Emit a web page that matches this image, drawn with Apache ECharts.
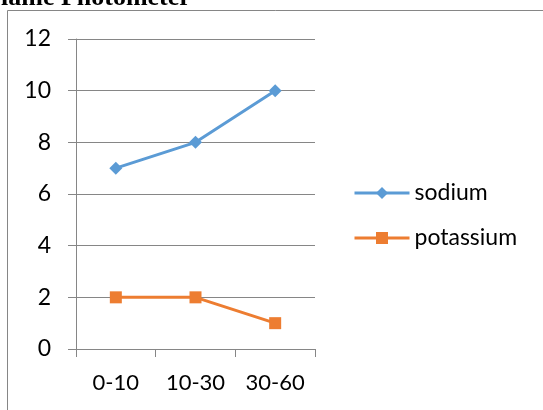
<!DOCTYPE html>
<html>
<head>
<meta charset="utf-8">
<script src="https://cdn.jsdelivr.net/npm/echarts@6/dist/echarts.min.js"></script>
<style>
html, body { margin: 0; padding: 0; background: #fff; }
#chart { width: 543px; height: 410px; }
</style>
</head>
<body>
<div id="chart"></div>
<script>
// Soil depth bands (cm) and measured concentrations
const depths = ['0-10', '10-30', '30-60'];
const sodium = [7, 8, 10];
const potassium = [2, 2, 1];
const yTicks = { min: 0, max: 12, step: 2 };

const axisGray = '#868686';
const labelFont = 'Lato, "Open Sans", sans-serif';

const chart = echarts.init(document.getElementById('chart'), null, { renderer: 'canvas' });
chart.setOption({
  animation: false,
  backgroundColor: '#fff',
  graphic: [
    {
      type: 'rect',
      shape: { x: 7.5, y: 10.5, width: 600, height: 500 },
      style: { fill: 'none', stroke: axisGray, lineWidth: 1 },
      silent: true
    },
    {
      type: 'text',
      x: 1,
      y: 11,
      style: {
        text: 'lame Photometer',
        font: 'bold 26px "Liberation Serif", "Times New Roman", serif',
        lineHeight: 26,
        fill: '#000',
        verticalAlign: 'bottom'
      },
      silent: true
    }
  ],
  grid: { left: 76, right: 228, top: 39, bottom: 61, containLabel: false },
  legend: {
    orient: 'vertical',
    left: 348,
    top: 176,
    itemWidth: 55,
    itemHeight: 15,
    itemGap: 21,
    lineStyle: { width: 3 },
    textStyle: { fontFamily: labelFont, fontSize: 23, lineHeight: 24, color: '#000' },
    data: ['sodium', 'potassium']
  },
  xAxis: {
    type: 'category',
    data: depths,
    boundaryGap: true,
    axisLine: { lineStyle: { color: axisGray, width: 1 } },
    axisTick: { show: true, length: 8, lineStyle: { color: axisGray } },
    axisLabel: { interval: 0, hideOverlap: false, margin: 23, fontFamily: labelFont, fontSize: 22, color: '#000' },
    splitLine: { show: false }
  },
  yAxis: {
    type: 'value',
    min: yTicks.min,
    max: yTicks.max,
    interval: yTicks.step,
    axisLine: { show: true, lineStyle: { color: axisGray, width: 1 } },
    axisTick: { show: true, length: 8, lineStyle: { color: axisGray } },
    axisLabel: { margin: 25, fontFamily: labelFont, fontSize: 23, color: '#000' },
    splitLine: { show: true, lineStyle: { color: axisGray, width: 1 } }
  },
  series: [
    {
      name: 'sodium',
      type: 'line',
      data: sodium,
      symbol: 'diamond',
      symbolSize: 13,
      lineStyle: { color: '#5B9BD5', width: 3 },
      itemStyle: { color: '#5B9BD5' }
    },
    {
      name: 'potassium',
      type: 'line',
      data: potassium,
      symbol: 'rect',
      symbolSize: 12,
      lineStyle: { color: '#ED7D31', width: 3 },
      itemStyle: { color: '#ED7D31' }
    }
  ]
});
</script>
</body>
</html>
